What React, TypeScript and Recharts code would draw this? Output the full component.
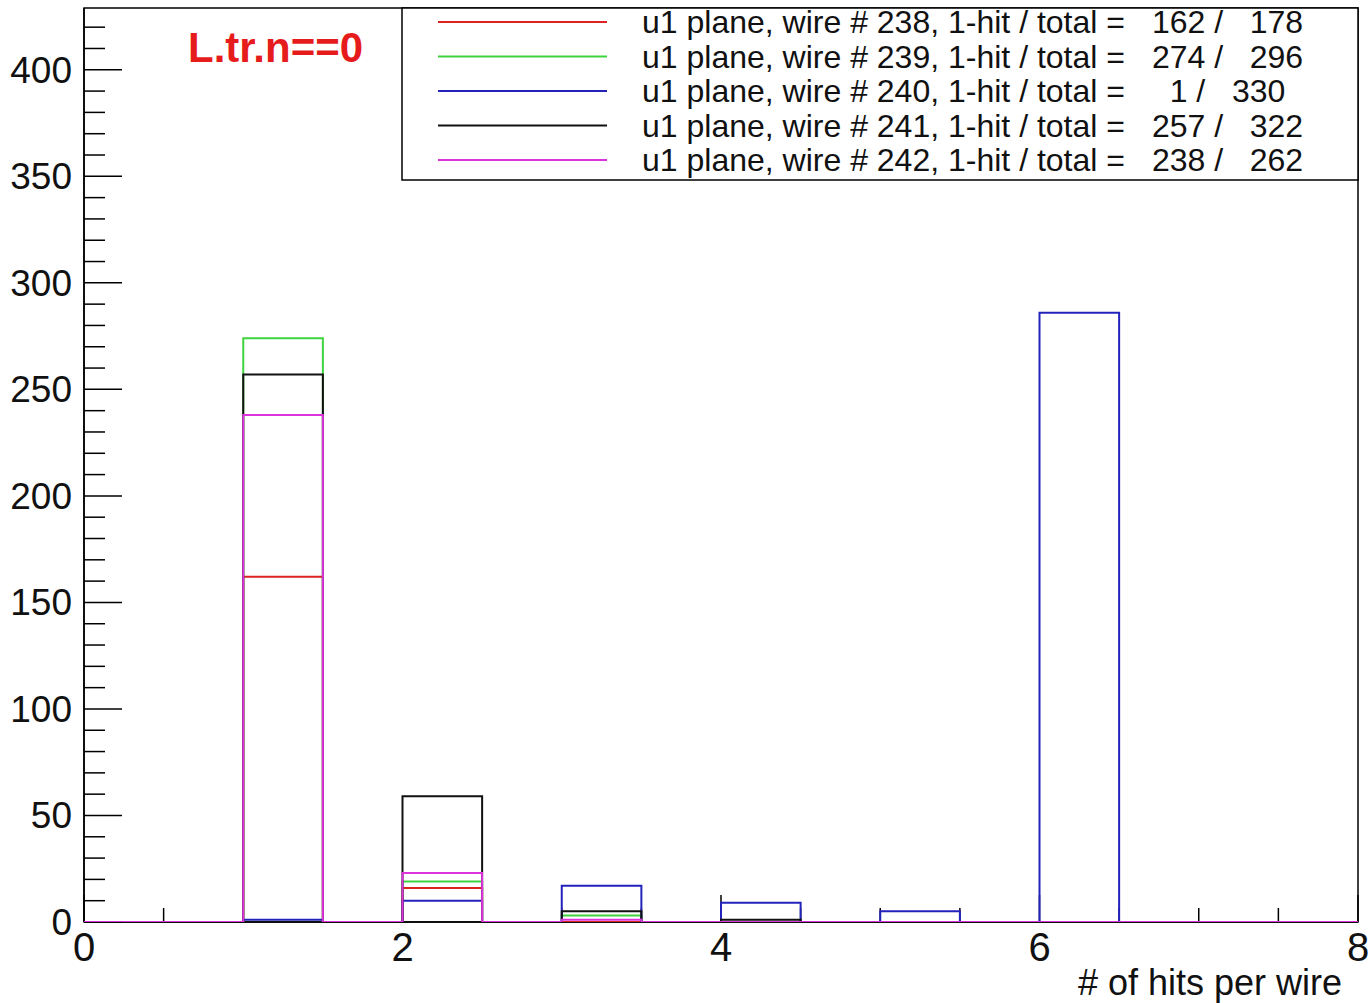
import React from "react";
import { LineChart, Line, XAxis, YAxis, ReferenceArea } from "recharts";

// bin edges of the histogram (bin width 0.5), last edge closes the step
const BIN_EDGES = [0, 0.5, 1, 1.5, 2, 2.5, 3, 3.5, 4, 4.5, 5, 5.5, 6, 6.5, 7, 7.5, 8];

// counts per bin, one value per bin starting at the matching edge
const WIRE_238 = [0, 0, 162, 0, 16, 0, 0, 0, 0, 0, 0, 0, 0, 0, 0, 0];
const WIRE_239 = [0, 0, 274, 0, 19, 0, 3, 0, 0, 0, 0, 0, 0, 0, 0, 0];
const WIRE_240 = [0, 0, 1, 0, 10, 0, 17, 0, 9, 0, 5, 0, 286, 0, 0, 0];
const WIRE_241 = [0, 0, 257, 0, 59, 0, 5, 0, 1, 0, 0, 0, 0, 0, 0, 0];
const WIRE_242 = [0, 0, 238, 0, 23, 0, 1, 0, 0, 0, 0, 0, 0, 0, 0, 0];

const WIRES = [238, 239, 240, 241, 242];
const ONE_HIT = [162, 274, 1, 257, 238];
const TOTALS = [178, 296, 330, 322, 262];

const X_LABELS = [0, 2, 4, 6, 8];
const Y_LABELS = [0, 50, 100, 150, 200, 250, 300, 350, 400];
const Y_TICKS = Array.from({ length: 43 }, (_, i) => i * 10);

const COLORS = ["#dd2222", "#3fd43f", "#2323bb", "#111111", "#dd33dd"];
const KEYS = ["w238", "w239", "w240", "w241", "w242"];

const W = 1370;
const H = 1003;
const LEFT = 84;
const X_AXIS_H = 81;
const BOTTOM = H - X_AXIS_H;
const Y_MAX = 429;
const FONT = "'Liberation Sans', Arial, Helvetica, sans-serif";

const series = [WIRE_238, WIRE_239, WIRE_240, WIRE_241, WIRE_242];
const data = BIN_EDGES.map((x, i) => {
  const row: Record<string, number> = { x };
  KEYS.forEach((k, s) => {
    row[k] = series[s][i] ?? 0;
  });
  return row;
});

function XTick(props: any) {
  const { x, payload } = props;
  const v = payload.value;
  const major = X_LABELS.includes(v);
  return (
    <g>
      <line x1={x} x2={x} y1={BOTTOM} y2={BOTTOM - (major ? 27 : 14)} stroke="#000" strokeWidth={1.5} />
      {major && (
        <text x={x} y={BOTTOM + 39} textAnchor="middle" fontSize={40} fontFamily={FONT} fill="#111">
          {v}
        </text>
      )}
    </g>
  );
}

function YTick(props: any) {
  const { y, payload } = props;
  const v = payload.value;
  const major = Y_LABELS.includes(v);
  return (
    <g>
      <line x1={LEFT} x2={LEFT + (major ? 38 : 21)} y1={y} y2={y} stroke="#000" strokeWidth={1.5} />
      {major && (
        <text x={LEFT - 12} y={y + 13} textAnchor="end" fontSize={37} fontFamily={FONT} fill="#111">
          {v}
        </text>
      )}
    </g>
  );
}

const pad = (n: number, w: number) => String(n).padStart(w, " ");

const layer = { position: "absolute" as const, left: 0, top: 0 };

export default function App() {
  return (
    <div style={{ position: "absolute", left: 0, top: 0, width: W, height: H, background: "#fff" }}>
      {/* frame and axes underneath */}
      <div style={layer}>
        <LineChart width={W} height={H} data={data} margin={{ top: 8, right: 12, bottom: 0, left: 0 }}>
          <XAxis
            dataKey="x"
            type="number"
            domain={[0, 8]}
            ticks={BIN_EDGES}
            interval={0}
            height={X_AXIS_H}
            tick={<XTick />}
            tickLine={false}
            axisLine={{ stroke: "#000", strokeWidth: 1.5 }}
          />
          <YAxis
            type="number"
            domain={[0, Y_MAX]}
            ticks={Y_TICKS}
            interval={0}
            width={LEFT}
            tick={<YTick />}
            tickLine={false}
            axisLine={{ stroke: "#000", strokeWidth: 1.5 }}
            allowDataOverflow
          />
          <ReferenceArea x1={0} x2={8} y1={0} y2={Y_MAX} fill="none" stroke="#000" strokeWidth={1.5} />
        </LineChart>
      </div>

      {/* histograms on top, same scales */}
      <div style={layer}>
        <LineChart width={W} height={H} data={data} margin={{ top: 8, right: 12, bottom: X_AXIS_H, left: LEFT }}>
          <XAxis dataKey="x" type="number" domain={[0, 8]} hide />
          <YAxis type="number" domain={[0, Y_MAX]} hide allowDataOverflow />
          {KEYS.map((k, s) => (
            <Line
              key={k}
              dataKey={k}
              type="stepAfter"
              stroke={COLORS[s]}
              strokeWidth={2}
              dot={false}
              activeDot={false}
              isAnimationActive={false}
            />
          ))}
        </LineChart>
      </div>

      {/* legend, title and axis title drawn on top */}
      <svg width={W} height={H} style={{ ...layer, pointerEvents: "none" }} fontFamily={FONT}>
        <text x={188} y={62} fontSize={42} fontWeight="bold" fill="#e61c1c">
          L.tr.n==0
        </text>
        <rect x={402} y={8} width={956} height={172} fill="#fff" stroke="#000" strokeWidth={1.5} />
        {WIRES.map((wire, i) => {
          const cy = 22 + i * 34.5;
          return (
            <g key={wire}>
              <line x1={438} x2={607} y1={cy} y2={cy} stroke={COLORS[i]} strokeWidth={2} />
              <text x={642} y={cy + 11} fontSize={32} fill="#111">
                {`u1 plane, wire # ${wire}, 1-hit / total =`}
              </text>
              <text x={1143} y={cy + 11} fontSize={32} fill="#111" style={{ whiteSpace: "pre" }}>
                {`${pad(ONE_HIT[i], 4)} / ${pad(TOTALS[i], 5)}`}
              </text>
            </g>
          );
        })}
        <text x={1342} y={995} textAnchor="end" fontSize={36} fill="#111">
          # of hits per wire
        </text>
      </svg>
    </div>
  );
}
